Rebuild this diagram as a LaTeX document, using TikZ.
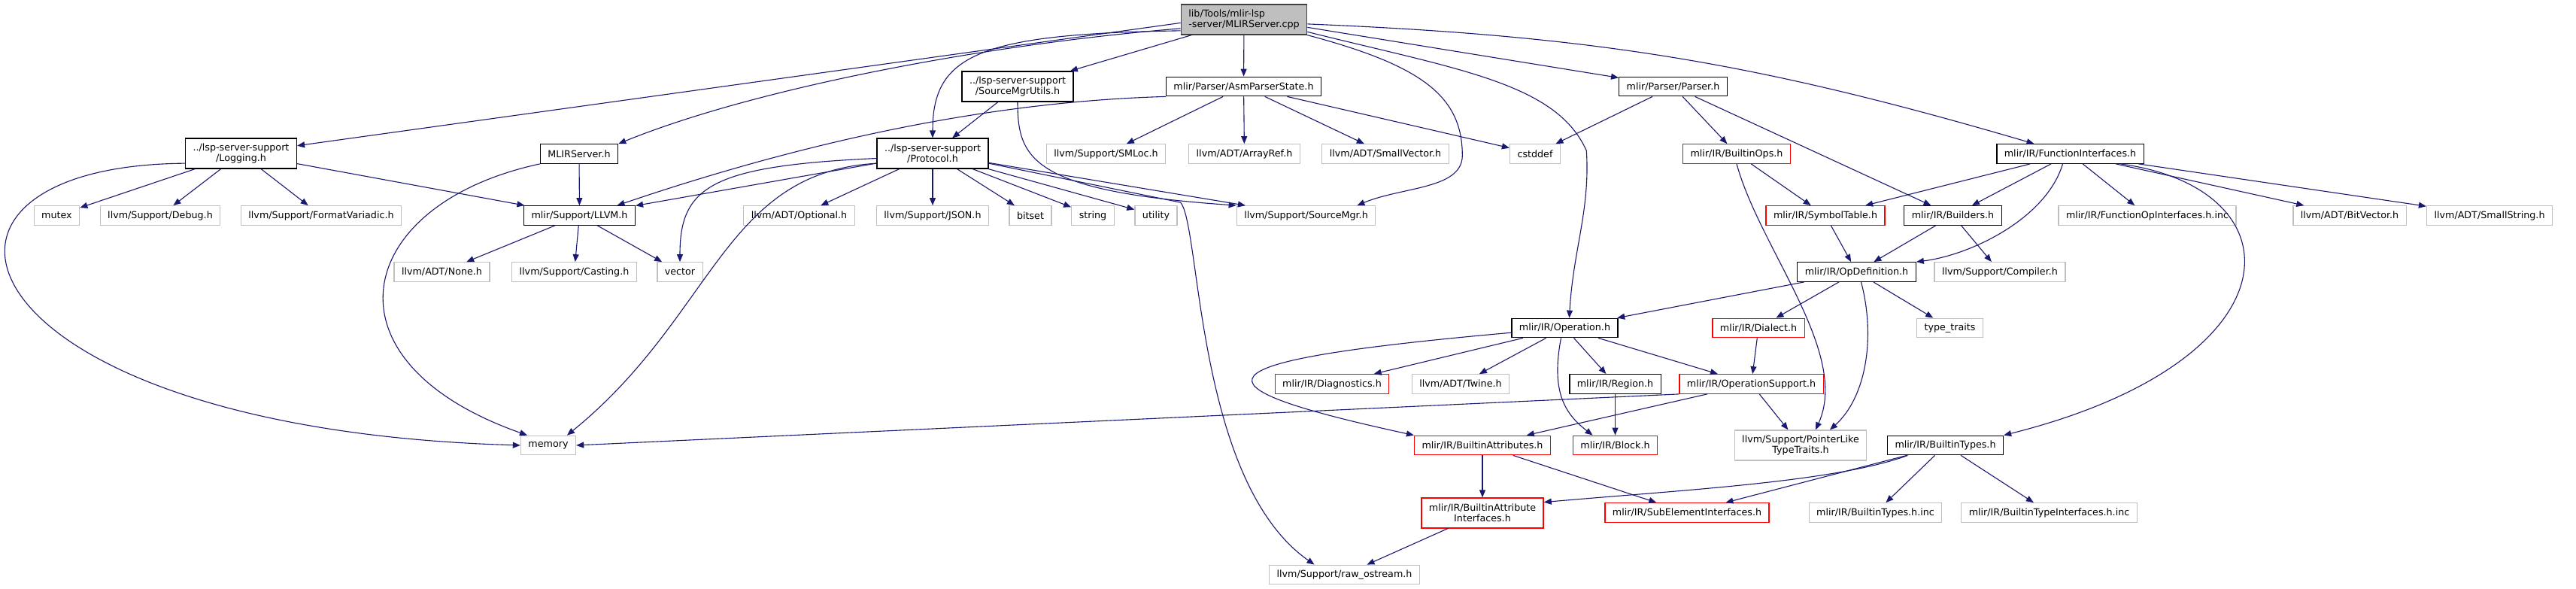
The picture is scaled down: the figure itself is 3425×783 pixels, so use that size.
\documentclass[tikz,border=0pt]{standalone}
\usepackage{fontspec}
\setmainfont{DejaVu Sans}
\usetikzlibrary{arrows.meta}
\definecolor{edgeblue}{HTML}{191970}
\definecolor{sysgray}{HTML}{BFBFBF}
\definecolor{rootline}{HTML}{404040}
\definecolor{cutred}{HTML}{FF0000}

\begin{document}
\begin{tikzpicture}[x=1pt,y=1pt,
  >={Triangle[length=10pt,width=8pt]},
  box/.style={rectangle,draw,fill=white,line width=1.3pt,font=\fontsize{12.7}{14}\selectfont,
    inner xsep=10pt,inner ysep=0pt,minimum height=25.5pt},
  hdr/.style={box,draw=black},
  part/.style={box,draw=cutred},
  sys/.style={box,draw=sysgray},
  rootnode/.style={box,draw=rootline,fill=sysgray,align=left,minimum height=40pt},
  tall/.style={align=center,minimum height=40pt},
  dep/.style={->,draw=edgeblue,line width=1.1pt}
]
\useasboundingbox (0,0) rectangle (3425,-783);

\node[rootnode] (root) at (1654,-26) {lib/Tools/mlir-lsp\\-server/MLIRServer.cpp};

\node[hdr,tall] (smutils) at (1353,-115) {../lsp-server-support\\/SourceMgrUtils.h};
\node[hdr] (asmstate) at (1653.5,-115) {mlir/Parser/AsmParserState.h};
\node[hdr] (parser) at (2224.5,-115) {mlir/Parser/Parser.h};

\node[hdr,tall] (logging) at (320.5,-204) {../lsp-server-support\\/Logging.h};
\node[hdr] (mlirserver) at (770,-204.5) {MLIRServer.h};
\node[hdr,tall] (protocol) at (1240,-204) {../lsp-server-support\\/Protocol.h};
\node[sys] (smloc) at (1470.5,-204.5) {llvm/Support/SMLoc.h};
\node[sys] (arrayref) at (1654.5,-204.5) {llvm/ADT/ArrayRef.h};
\node[sys] (smallvec) at (1842,-204.5) {llvm/ADT/SmallVector.h};
\node[sys] (cstddef) at (2041,-204.5) {cstddef};
\node[part] (builtinops) at (2309,-204.5) {mlir/IR/BuiltinOps.h};
\node[hdr] (funcif) at (2752.5,-204.5) {mlir/IR/FunctionInterfaces.h};

\node[sys] (mutex) at (75.5,-286.5) {mutex};
\node[sys] (debug) at (213,-286.5) {llvm/Support/Debug.h};
\node[sys] (fmtvar) at (427,-286.5) {llvm/Support/FormatVariadic.h};
\node[hdr] (llvmh) at (770.5,-286.5) {mlir/Support/LLVM.h};
\node[sys] (optional) at (1062.5,-286.5) {llvm/ADT/Optional.h};
\node[sys] (json) at (1240,-286.5) {llvm/Support/JSON.h};
\node[sys] (bitset) at (1370,-286.5) {bitset};
\node[sys] (string) at (1453,-286.5) {string};
\node[sys] (utility) at (1537,-286.5) {utility};
\node[sys] (srcmgr) at (1736.5,-286.5) {llvm/Support/SourceMgr.h};
\node[part] (symtab) at (2427,-286.5) {mlir/IR/SymbolTable.h};
\node[hdr] (builders) at (2596.5,-286.5) {mlir/IR/Builders.h};
\node[sys] (funcopinc) at (2855,-286.5) {mlir/IR/FunctionOpInterfaces.h.inc};
\node[sys] (bitvec) at (3124,-286.5) {llvm/ADT/BitVector.h};
\node[sys] (smallstr) at (3310,-286.5) {llvm/ADT/SmallString.h};

\node[sys] (noneh) at (587.5,-361.5) {llvm/ADT/None.h};
\node[sys] (casting) at (763.5,-361.5) {llvm/Support/Casting.h};
\node[sys] (vector) at (904,-361.5) {vector};
\node[hdr] (opdef) at (2468.5,-361.5) {mlir/IR/OpDefinition.h};
\node[sys] (compiler) at (2659,-361.5) {llvm/Support/Compiler.h};

\node[hdr] (operation) at (2080.5,-436) {mlir/IR/Operation.h};
\node[part] (dialect) at (2338,-436) {mlir/IR/Dialect.h};
\node[sys] (typetraits) at (2592.5,-436) {type\_traits};

\node[part] (diag) at (1771,-510.5) {mlir/IR/Diagnostics.h};
\node[sys] (twine) at (1942,-510.5) {llvm/ADT/Twine.h};
\node[hdr] (region) at (2147.5,-510.5) {mlir/IR/Region.h};
\node[part] (opsupport) at (2328.5,-510.5) {mlir/IR/OperationSupport.h};

\node[sys] (memory) at (729,-592) {memory};
\node[part] (battrs) at (1971,-592) {mlir/IR/BuiltinAttributes.h};
\node[part] (block) at (2147.5,-592) {mlir/IR/Block.h};
\node[sys,tall] (ptrlike) at (2394,-592) {llvm/Support/PointerLike\\TypeTraits.h};
\node[hdr] (btypes) at (2586.5,-592) {mlir/IR/BuiltinTypes.h};

\node[part,tall] (battrif) at (1971,-682) {mlir/IR/BuiltinAttribute\\Interfaces.h};
\node[part] (subelem) at (2243,-681.5) {mlir/IR/SubElementInterfaces.h};
\node[sys] (btypesinc) at (2493.5,-681.5) {mlir/IR/BuiltinTypes.h.inc};
\node[sys] (btypeifinc) at (2724.5,-681.5) {mlir/IR/BuiltinTypeInterfaces.h.inc};

\node[sys] (rawos) at (1787.5,-764) {llvm/Support/raw\_ostream.h};

\draw[dep] (root.183) -- (logging);
\draw[dep] (root.188) .. controls +(-269,-22) and +(177,72) .. (mlirserver.north east);
\draw[dep] (root.190) .. controls +(-269,-4) and +(0,110) .. (protocol.north);
\draw[dep] (root) -- (smutils);
\draw[dep] (root) -- (asmstate);
\draw[dep] (root.south east) .. controls +(150,-40) and +(0,80) .. ++(206,-160)
  .. controls +(0,-45) and +(60,25) .. ([xshift=-25pt]srcmgr.north east);
\draw[dep] (root.-11) .. controls +(200,-50) and +(-40,90) .. ++(371,-158)
  .. controls +(5,-80) and +(5,90) .. ([xshift=6pt]operation.north);
\draw[dep] (root.-7) -- (parser);
\draw[dep] (root.-4) to[bend left=7] ([xshift=-48pt]funcif.north);

\draw[dep] (logging.190) .. controls +(-415,-3) and +(-750,22) .. (memory.west);
\draw[dep] (logging) -- (mutex);
\draw[dep] (logging) -- (debug);
\draw[dep] (logging) -- (fmtvar);
\draw[dep] (logging) -- (llvmh);

\draw[dep] (mlirserver) -- (llvmh);
\draw[dep] (mlirserver.south west) .. controls +(-247,-53) and +(-281,99) .. ([xshift=-28pt]memory.north);

\draw[dep] (smutils) -- (protocol);
\draw[dep] (smutils.south) .. controls +(0,-75) and +(-273,19) .. (srcmgr.north west);

\draw[dep] (asmstate.south west) .. controls +(-248,-7) and +(233,79) .. (llvmh.15);
\draw[dep] (asmstate) -- (smloc);
\draw[dep] (asmstate) -- (arrayref);
\draw[dep] (asmstate) -- (smallvec);
\draw[dep] (asmstate) -- (cstddef);

\draw[dep] (protocol) -- (llvmh);
\draw[dep] (protocol.185) .. controls +(-220,-10) and +(0,100) .. (vector.north);
\draw[dep] (protocol.190) .. controls +(-204,-12) and +(196,159) .. ([xshift=25pt]memory.north);
\draw[dep] (protocol) -- (optional);
\draw[dep] (protocol) -- (json);
\draw[dep] (protocol) -- (bitset);
\draw[dep] (protocol) -- (string);
\draw[dep] (protocol) -- (utility);
\draw[dep] (protocol) -- (srcmgr);
\draw[dep] (protocol.-10) -- ++(255,-52) .. controls +(27,-31) and +(-158,111) .. ([xshift=-40pt]rawos.north);

\draw[dep] (llvmh) -- (noneh);
\draw[dep] (llvmh) -- (casting);
\draw[dep] (llvmh) -- (vector);

\draw[dep] (parser) -- (cstddef);
\draw[dep] (parser) -- (builtinops);
\draw[dep] (parser) -- (builders);

\draw[dep] (builtinops) -- (symtab);
\draw[dep] (builtinops.south) .. controls +(31,-113) and +(46,102) .. ([xshift=20pt]ptrlike.north);

\draw[dep] (funcif) -- (symtab);
\draw[dep] (funcif) -- (builders);
\draw[dep] ([xshift=-10pt]funcif.south) .. controls +(-22,-73) and +(72,9) .. (opdef.north east);
\draw[dep] (funcif) -- (funcopinc);
\draw[dep] (funcif) -- (bitvec);
\draw[dep] (funcif) -- (smallstr);
\draw[dep] ([xshift=67pt]funcif.south) .. controls +(240,-33) and +(395,99) .. (btypes.north east);

\draw[dep] (symtab) -- (opdef);
\draw[dep] (builders) -- (opdef);
\draw[dep] (builders) -- (compiler);

\draw[dep] (opdef) -- (operation);
\draw[dep] (opdef) -- (dialect);
\draw[dep] (opdef) -- (typetraits);
\draw[dep] ([xshift=6pt]opdef.south) .. controls +(20,-76) and +(47,42) .. ([xshift=39pt]ptrlike.north);

\draw[dep] (operation.185) .. controls +(-428,-38) and +(-308,67) .. (battrs.north west);
\draw[dep] (operation) -- (diag);
\draw[dep] (operation) -- (twine);
\draw[dep] (operation) -- (region);
\draw[dep] (operation) -- (opsupport);
\draw[dep] ([xshift=-5pt]operation.south) .. controls +(-13.5,-71) and +(-37.5,29) .. ([xshift=-30pt]block.north);

\draw[dep] (dialect) -- (opsupport);
\draw[dep] (region) -- (block);

\draw[dep] (opsupport.south west) -- (memory.east);
\draw[dep] (opsupport) -- (battrs);
\draw[dep] (opsupport) -- (ptrlike);

\draw[dep] (battrs) -- (battrif);
\draw[dep] (battrs) -- (subelem);
\draw[dep] (battrif) -- (rawos);

\draw[dep] ([xshift=-50pt]btypes.south) .. controls +(-96,-35) and +(195,17) .. (battrif.10);
\draw[dep] (btypes) -- (subelem);
\draw[dep] (btypes) -- (btypesinc);
\draw[dep] (btypes) -- (btypeifinc);
\end{tikzpicture}
\end{document}
